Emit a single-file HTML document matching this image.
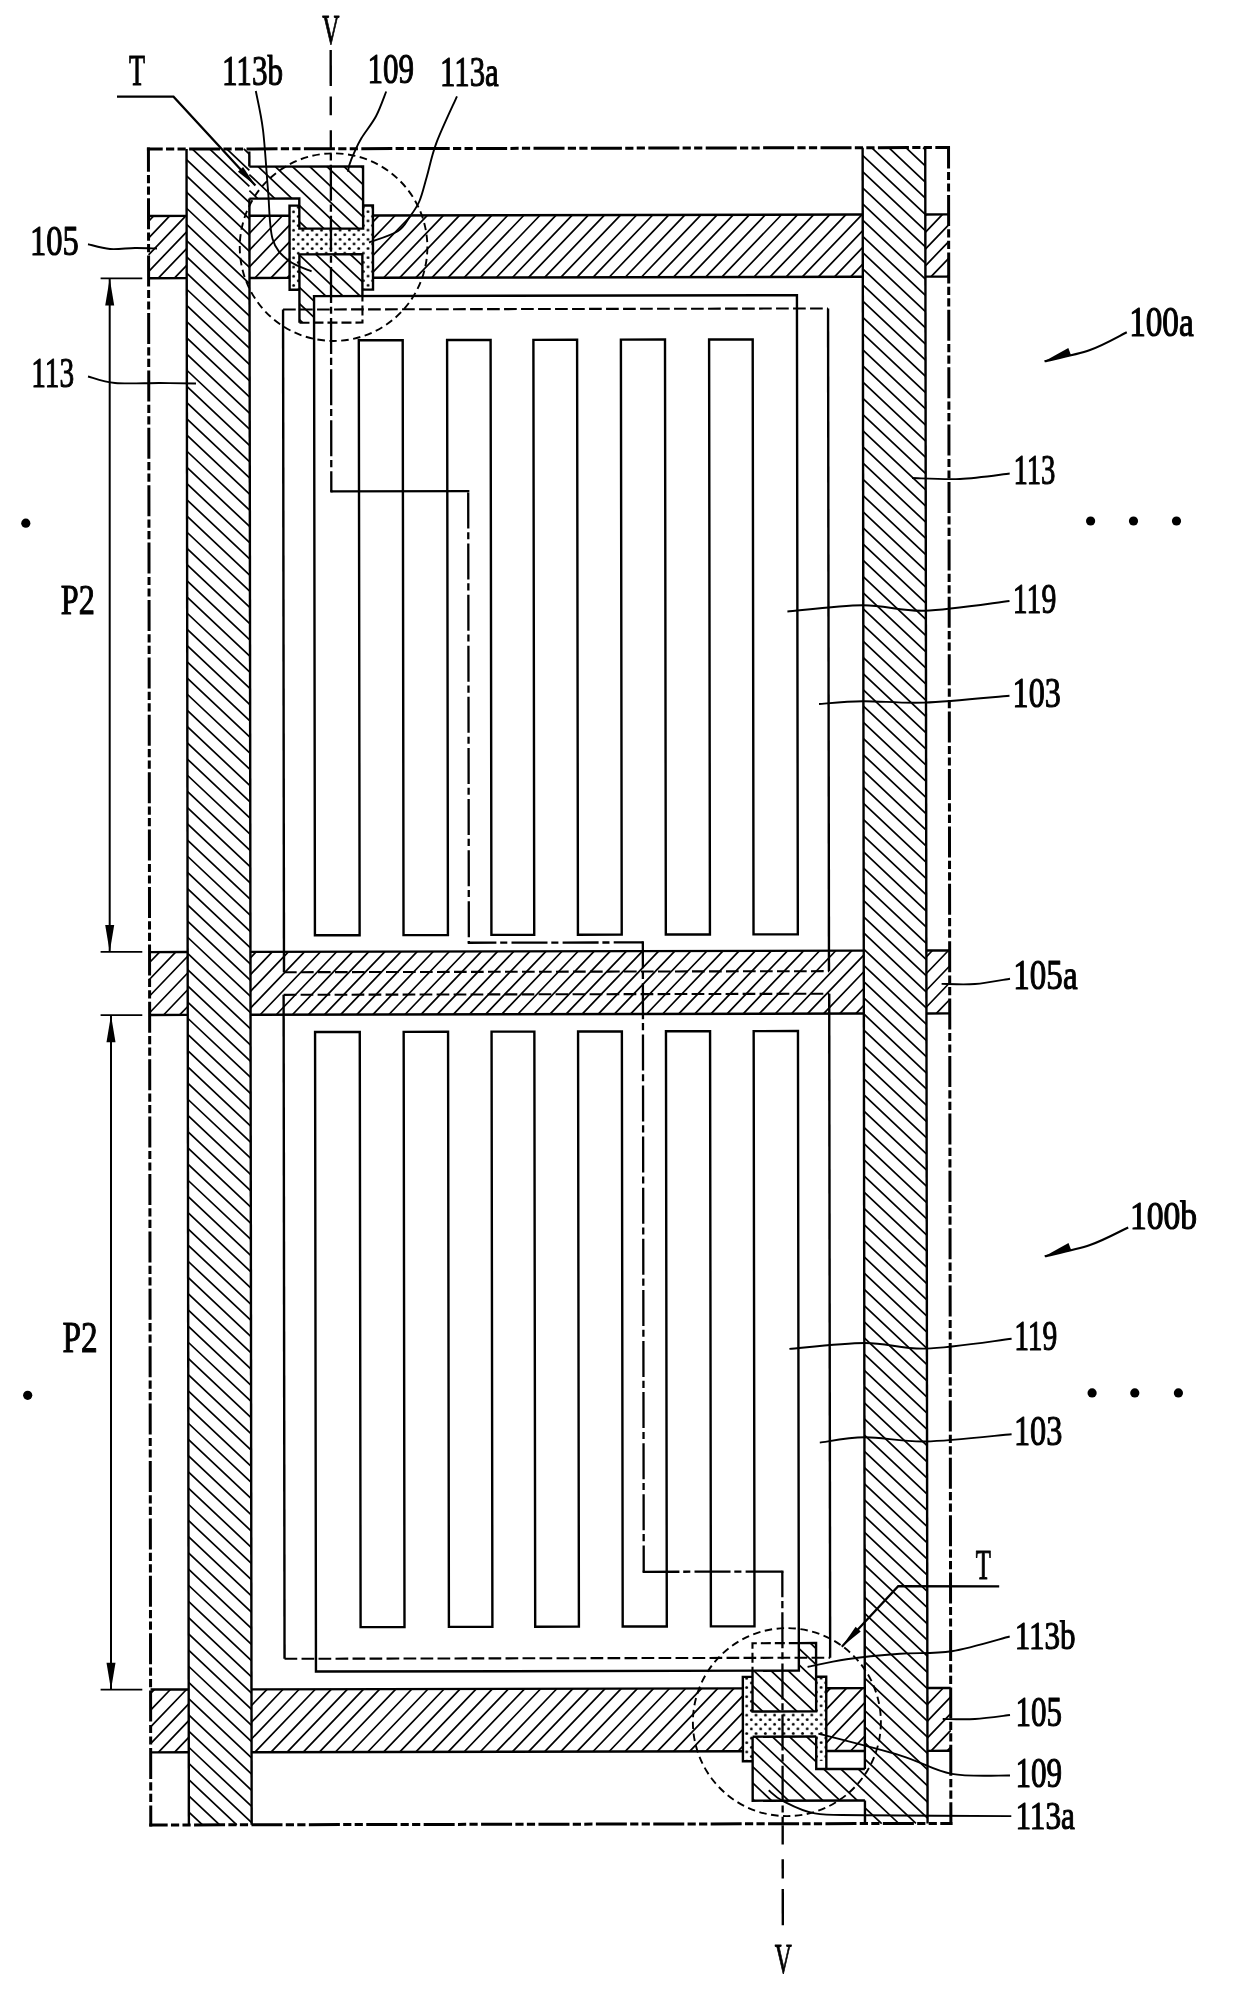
<!DOCTYPE html>
<html><head><meta charset="utf-8"><style>html,body{margin:0;padding:0;background:#fff;}svg{display:block;font-family:"Liberation Serif",serif;}</style></head><body><svg width="1240" height="1998" viewBox="0 0 1240 1998">
<defs><pattern id="dots" patternUnits="userSpaceOnUse" width="9.3" height="9.2" x="297" y="232"><circle cx="2.3" cy="2.3" r="1.45" fill="#000"/><circle cx="6.95" cy="6.9" r="1.45" fill="#000"/></pattern></defs>
<rect width="1240" height="1998" fill="#fff"/>
<g transform="matrix(1 -0.002 0.0014 1 -1.38 1.1)" stroke="#000" stroke-linecap="butt" stroke-linejoin="miter">
<path d="M154.7 215.2L149.6 220.5M170.8 215.2L149.6 237.25M186.9 215.2L149.6 253.99M187.7 231.11L149.6 270.74M187.7 247.86L159.29 277.4M187.7 264.6L175.39 277.4M251.3 215.2L250.5 216.03M267.4 215.2L250.5 232.78M283.5 215.2L250.5 249.52M290.6 224.56L250.5 266.26M290.6 241.3L255.89 277.4M290.6 258.05L271.99 277.4M290.6 274.79L288.09 277.4M380.1 215.2L374 221.54M396.2 215.2L374 238.29M412.3 215.2L374 255.03M428.4 215.2L374 271.78M444.5 215.2L384.69 277.4M460.6 215.2L400.79 277.4M476.7 215.2L416.89 277.4M492.8 215.2L432.99 277.4M508.9 215.2L449.09 277.4M525 215.2L465.19 277.4M541.1 215.2L481.29 277.4M557.2 215.2L497.39 277.4M573.3 215.2L513.49 277.4M589.4 215.2L529.59 277.4M605.5 215.2L545.69 277.4M621.6 215.2L561.79 277.4M637.7 215.2L577.89 277.4M653.8 215.2L593.99 277.4M669.9 215.2L610.09 277.4M686 215.2L626.19 277.4M702.1 215.2L642.29 277.4M718.2 215.2L658.39 277.4M734.3 215.2L674.49 277.4M750.4 215.2L690.59 277.4M766.5 215.2L706.69 277.4M782.6 215.2L722.79 277.4M798.7 215.2L738.89 277.4M814.8 215.2L754.99 277.4M830.9 215.2L771.09 277.4M847 215.2L787.19 277.4M863.1 215.2L803.29 277.4M863.8 231.22L819.39 277.4M863.8 247.96L835.49 277.4M863.8 264.7L851.59 277.4M927.5 215.2L926.4 216.34M943.6 215.2L926.4 233.09M949.7 225.6L926.4 249.83M949.7 242.34L926.4 266.58M949.7 259.09L932.09 277.4M949.7 275.83L948.19 277.4" stroke-width="1.7" fill="none"/>
<path d="M159.6 951.3L149.6 961.7M175.7 951.3L149.6 978.44M187.7 955.56L149.6 995.19M187.7 972.31L149.6 1011.93M187.7 989.05L163.52 1014.2M187.7 1005.8L179.62 1014.2M256.2 951.3L250.5 957.23M272.3 951.3L250.5 973.97M288.4 951.3L250.5 990.72M304.5 951.3L250.5 1007.46M320.6 951.3L260.12 1014.2M336.7 951.3L276.22 1014.2M352.8 951.3L292.32 1014.2M368.9 951.3L308.42 1014.2M385 951.3L324.52 1014.2M401.1 951.3L340.62 1014.2M417.2 951.3L356.72 1014.2M433.3 951.3L372.82 1014.2M449.4 951.3L388.92 1014.2M465.5 951.3L405.02 1014.2M481.6 951.3L421.12 1014.2M497.7 951.3L437.22 1014.2M513.8 951.3L453.32 1014.2M529.9 951.3L469.42 1014.2M546 951.3L485.52 1014.2M562.1 951.3L501.62 1014.2M578.2 951.3L517.72 1014.2M594.3 951.3L533.82 1014.2M610.4 951.3L549.92 1014.2M626.5 951.3L566.02 1014.2M642.6 951.3L582.12 1014.2M658.7 951.3L598.22 1014.2M674.8 951.3L614.32 1014.2M690.9 951.3L630.42 1014.2M707 951.3L646.52 1014.2M723.1 951.3L662.62 1014.2M739.2 951.3L678.72 1014.2M755.3 951.3L694.82 1014.2M771.4 951.3L710.92 1014.2M787.5 951.3L727.02 1014.2M803.6 951.3L743.12 1014.2M819.7 951.3L759.22 1014.2M835.8 951.3L775.32 1014.2M851.9 951.3L791.42 1014.2M863.8 955.67L807.52 1014.2M863.8 972.41L823.62 1014.2M863.8 989.16L839.72 1014.2M863.8 1005.9L855.82 1014.2M932.4 951.3L926.4 957.54M948.5 951.3L926.4 974.28M949.7 966.8L926.4 991.03M949.7 983.54L926.4 1007.77M949.7 1000.28L936.32 1014.2" stroke-width="1.7" fill="none"/>
<path d="M153.32 1688.75L149.6 1692.62M169.42 1688.75L149.6 1709.36M185.52 1688.75L149.6 1726.1M187.7 1703.22L149.6 1742.85M187.7 1719.97L157.28 1751.6M187.7 1736.71L173.38 1751.6M266.02 1688.75L250.5 1704.89M282.12 1688.75L250.5 1721.63M298.22 1688.75L250.5 1738.38M314.32 1688.75L253.88 1751.6M330.42 1688.75L269.98 1751.6M346.52 1688.75L286.08 1751.6M362.62 1688.75L302.18 1751.6M378.72 1688.75L318.28 1751.6M394.82 1688.75L334.38 1751.6M410.92 1688.75L350.48 1751.6M427.02 1688.75L366.58 1751.6M443.12 1688.75L382.68 1751.6M459.22 1688.75L398.78 1751.6M475.32 1688.75L414.88 1751.6M491.42 1688.75L430.98 1751.6M507.52 1688.75L447.08 1751.6M523.62 1688.75L463.18 1751.6M539.72 1688.75L479.28 1751.6M555.82 1688.75L495.38 1751.6M571.92 1688.75L511.48 1751.6M588.02 1688.75L527.58 1751.6M604.12 1688.75L543.68 1751.6M620.22 1688.75L559.78 1751.6M636.32 1688.75L575.88 1751.6M652.42 1688.75L591.98 1751.6M668.52 1688.75L608.08 1751.6M684.62 1688.75L624.18 1751.6M700.72 1688.75L640.28 1751.6M716.82 1688.75L656.38 1751.6M732.92 1688.75L672.48 1751.6M741.85 1696.2L688.58 1751.6M741.85 1712.95L704.68 1751.6M741.85 1729.69L720.78 1751.6M741.85 1746.44L736.88 1751.6M829.52 1688.75L825.25 1693.19M845.62 1688.75L825.25 1709.93M861.72 1688.75L825.25 1726.68M863.8 1703.33L825.25 1743.42M863.8 1720.07L833.48 1751.6M863.8 1736.82L849.58 1751.6M942.22 1688.75L926.4 1705.2M949.7 1697.71L926.4 1721.94M949.7 1714.46L926.4 1738.69M949.7 1731.2L930.08 1751.6M949.7 1747.94L946.18 1751.6" stroke-width="1.7" fill="none"/>
<path d="M245.04 148.3L250.5 153.46M227.89 148.3L250.5 169.66M210.75 148.3L250.5 185.86M193.61 148.3L250.5 202.06M187.7 158.92L250.5 218.26M187.7 175.12L250.5 234.46M187.7 191.32L250.5 250.66M187.7 207.52L250.5 266.86M187.7 223.72L250.5 283.06M187.7 239.92L250.5 299.26M187.7 256.12L250.5 315.46M187.7 272.32L250.5 331.66M187.7 288.52L250.5 347.86M187.7 304.72L250.5 364.06M187.7 320.92L250.5 380.26M187.7 337.12L250.5 396.46M187.7 353.32L250.5 412.66M187.7 369.52L250.5 428.86M187.7 385.72L250.5 445.06M187.7 401.92L250.5 461.26M187.7 418.12L250.5 477.46M187.7 434.32L250.5 493.66M187.7 450.52L250.5 509.86M187.7 466.72L250.5 526.06M187.7 482.92L250.5 542.26M187.7 499.12L250.5 558.46M187.7 515.32L250.5 574.66M187.7 531.52L250.5 590.86M187.7 547.72L250.5 607.06M187.7 563.92L250.5 623.26M187.7 580.12L250.5 639.46M187.7 596.32L250.5 655.66M187.7 612.52L250.5 671.86M187.7 628.72L250.5 688.06M187.7 644.92L250.5 704.26M187.7 661.12L250.5 720.46M187.7 677.32L250.5 736.66M187.7 693.52L250.5 752.86M187.7 709.72L250.5 769.06M187.7 725.92L250.5 785.26M187.7 742.12L250.5 801.46M187.7 758.32L250.5 817.66M187.7 774.52L250.5 833.86M187.7 790.72L250.5 850.06M187.7 806.92L250.5 866.26M187.7 823.12L250.5 882.46M187.7 839.32L250.5 898.66M187.7 855.52L250.5 914.86M187.7 871.72L250.5 931.06M187.7 887.92L250.5 947.26M187.7 904.12L250.5 963.46M187.7 920.32L250.5 979.66M187.7 936.52L250.5 995.86M187.7 952.72L250.5 1012.06M187.7 968.92L250.5 1028.26M187.7 985.12L250.5 1044.46M187.7 1001.32L250.5 1060.66M187.7 1017.52L250.5 1076.86M187.7 1033.72L250.5 1093.06M187.7 1049.92L250.5 1109.26M187.7 1066.12L250.5 1125.46M187.7 1082.32L250.5 1141.66M187.7 1098.52L250.5 1157.86M187.7 1114.72L250.5 1174.06M187.7 1130.92L250.5 1190.26M187.7 1147.12L250.5 1206.46M187.7 1163.32L250.5 1222.66M187.7 1179.52L250.5 1238.86M187.7 1195.72L250.5 1255.06M187.7 1211.92L250.5 1271.26M187.7 1228.12L250.5 1287.46M187.7 1244.32L250.5 1303.66M187.7 1260.52L250.5 1319.86M187.7 1276.72L250.5 1336.06M187.7 1292.92L250.5 1352.26M187.7 1309.12L250.5 1368.46M187.7 1325.32L250.5 1384.66M187.7 1341.52L250.5 1400.86M187.7 1357.72L250.5 1417.06M187.7 1373.92L250.5 1433.26M187.7 1390.12L250.5 1449.46M187.7 1406.32L250.5 1465.66M187.7 1422.52L250.5 1481.86M187.7 1438.72L250.5 1498.06M187.7 1454.92L250.5 1514.26M187.7 1471.12L250.5 1530.46M187.7 1487.32L250.5 1546.66M187.7 1503.52L250.5 1562.86M187.7 1519.72L250.5 1579.06M187.7 1535.92L250.5 1595.26M187.7 1552.12L250.5 1611.46M187.7 1568.32L250.5 1627.66M187.7 1584.52L250.5 1643.86M187.7 1600.72L250.5 1660.06M187.7 1616.92L250.5 1676.26M187.7 1633.12L250.5 1692.46M187.7 1649.32L250.5 1708.66M187.7 1665.52L250.5 1724.86M187.7 1681.72L250.5 1741.06M187.7 1697.92L250.5 1757.26M187.7 1714.12L250.5 1773.46M187.7 1730.32L250.5 1789.66M187.7 1746.52L250.5 1805.86M187.7 1762.72L250.5 1822.06M187.7 1778.92L235.62 1824.2M187.7 1795.12L218.48 1824.2M187.7 1811.32L201.33 1824.2" stroke-width="1.7" fill="none"/>
<path d="M293.56 166L300.4 172.47M276.41 166L300.4 188.67M259.27 166L293.13 198M250.5 173.91L275.99 198M250.5 190.11L258.85 198M362.13 166L364.2 167.96M344.98 166L364.2 184.16M327.84 166L364.2 200.36M310.7 166L364.2 216.56M300.4 172.47L359.27 228.1M300.4 188.67L342.13 228.1M300.4 204.87L324.98 228.1M300.4 221.07L307.84 228.1" stroke-width="1.7" fill="none"/>
<path d="M924.21 148.3L926.4 150.37M907.07 148.3L926.4 166.57M889.93 148.3L926.4 182.77M872.78 148.3L926.4 198.97M863.8 156.01L926.4 215.17M863.8 172.21L926.4 231.37M863.8 188.41L926.4 247.57M863.8 204.61L926.4 263.77M863.8 220.81L926.4 279.97M863.8 237.01L926.4 296.17M863.8 253.21L926.4 312.37M863.8 269.41L926.4 328.57M863.8 285.61L926.4 344.77M863.8 301.81L926.4 360.97M863.8 318.01L926.4 377.17M863.8 334.21L926.4 393.37M863.8 350.41L926.4 409.57M863.8 366.61L926.4 425.77M863.8 382.81L926.4 441.97M863.8 399.01L926.4 458.17M863.8 415.21L926.4 474.37M863.8 431.41L926.4 490.57M863.8 447.61L926.4 506.77M863.8 463.81L926.4 522.97M863.8 480.01L926.4 539.17M863.8 496.21L926.4 555.37M863.8 512.41L926.4 571.57M863.8 528.61L926.4 587.77M863.8 544.81L926.4 603.97M863.8 561.01L926.4 620.17M863.8 577.21L926.4 636.37M863.8 593.41L926.4 652.57M863.8 609.61L926.4 668.77M863.8 625.81L926.4 684.97M863.8 642.01L926.4 701.17M863.8 658.21L926.4 717.37M863.8 674.41L926.4 733.57M863.8 690.61L926.4 749.77M863.8 706.81L926.4 765.97M863.8 723.01L926.4 782.17M863.8 739.21L926.4 798.37M863.8 755.41L926.4 814.57M863.8 771.61L926.4 830.77M863.8 787.81L926.4 846.97M863.8 804.01L926.4 863.17M863.8 820.21L926.4 879.37M863.8 836.41L926.4 895.57M863.8 852.61L926.4 911.77M863.8 868.81L926.4 927.97M863.8 885.01L926.4 944.17M863.8 901.21L926.4 960.37M863.8 917.41L926.4 976.57M863.8 933.61L926.4 992.77M863.8 949.81L926.4 1008.97M863.8 966.01L926.4 1025.17M863.8 982.21L926.4 1041.37M863.8 998.41L926.4 1057.57M863.8 1014.61L926.4 1073.77M863.8 1030.81L926.4 1089.97M863.8 1047.01L926.4 1106.17M863.8 1063.21L926.4 1122.37M863.8 1079.41L926.4 1138.57M863.8 1095.61L926.4 1154.77M863.8 1111.81L926.4 1170.97M863.8 1128.01L926.4 1187.17M863.8 1144.21L926.4 1203.37M863.8 1160.41L926.4 1219.57M863.8 1176.61L926.4 1235.77M863.8 1192.81L926.4 1251.97M863.8 1209.01L926.4 1268.17M863.8 1225.21L926.4 1284.37M863.8 1241.41L926.4 1300.57M863.8 1257.61L926.4 1316.77M863.8 1273.81L926.4 1332.97M863.8 1290.01L926.4 1349.17M863.8 1306.21L926.4 1365.37M863.8 1322.41L926.4 1381.57M863.8 1338.61L926.4 1397.77M863.8 1354.81L926.4 1413.97M863.8 1371.01L926.4 1430.17M863.8 1387.21L926.4 1446.37M863.8 1403.41L926.4 1462.57M863.8 1419.61L926.4 1478.77M863.8 1435.81L926.4 1494.97M863.8 1452.01L926.4 1511.17M863.8 1468.21L926.4 1527.37M863.8 1484.41L926.4 1543.57M863.8 1500.61L926.4 1559.77M863.8 1516.81L926.4 1575.97M863.8 1533.01L926.4 1592.17M863.8 1549.21L926.4 1608.37M863.8 1565.41L926.4 1624.57M863.8 1581.61L926.4 1640.77M863.8 1597.81L926.4 1656.97M863.8 1614.01L926.4 1673.17M863.8 1630.21L926.4 1689.37M863.8 1646.41L926.4 1705.57M863.8 1662.61L926.4 1721.77M863.8 1678.81L926.4 1737.97M863.8 1695.01L926.4 1754.17M863.8 1711.21L926.4 1770.37M863.8 1727.41L926.4 1786.57M863.8 1743.61L926.4 1802.77M863.8 1759.81L926.4 1818.97M863.8 1776.01L914.79 1824.2M863.8 1792.21L897.65 1824.2M863.8 1808.41L880.51 1824.2M805.48 1737.1L815.15 1746.24M788.34 1737.1L815.15 1762.44M771.2 1737.1L815.15 1778.64M754.05 1737.1L815.15 1794.84M751.55 1750.93L804.63 1801.1M751.55 1767.13L787.49 1801.1M751.55 1783.33L770.35 1801.1M751.55 1799.53L753.21 1801.1M857.02 1769.6L863.8 1776.01M839.87 1769.6L863.8 1792.21M822.73 1769.6L856.06 1801.1M815.15 1778.64L838.92 1801.1M815.15 1794.84L821.78 1801.1" stroke-width="1.7" fill="none"/>
<path d="M351.29 253.9L363.4 265.35M334.14 253.9L363.4 281.55M317 253.9L361.18 295.65M300.4 254.41L344.04 295.65M300.4 270.61L326.89 295.65M300.4 286.81L309.75 295.65M309.75 295.65L315 300.61M300.4 303.01L315 316.81M300.4 319.21L303.56 322.2" stroke-width="1.7" fill="none"/>
<path d="M804.21 1671.1L815.15 1681.44M787.07 1671.1L815.15 1697.64M769.93 1671.1L813.1 1711.9M752.78 1671.1L795.96 1711.9M751.55 1686.13L778.81 1711.9M751.55 1702.33L761.67 1711.9M809.4 1643.6L815.15 1649.04M797.9 1648.94L815.15 1665.24M797.9 1665.14L804.21 1671.1" stroke-width="1.7" fill="none"/>
<rect x="290.6" y="205.1" width="9.8" height="84.2" fill="url(#dots)" stroke="none"/>
<rect x="364.2" y="205.1" width="9.8" height="84.2" fill="url(#dots)" stroke="none"/>
<rect x="300.4" y="228.1" width="63.8" height="25.8" fill="url(#dots)" stroke="none"/>
<rect x="741.85" y="1677.3" width="9.7" height="84.3" fill="url(#dots)" stroke="none"/>
<rect x="815.15" y="1677.3" width="10.1" height="84.3" fill="url(#dots)" stroke="none"/>
<rect x="751.55" y="1711.9" width="63.6" height="25.2" fill="url(#dots)" stroke="none"/>
<line x1="148.1" y1="148.3" x2="951.2" y2="148.3" stroke-width="3" stroke-dasharray="31 3.3 8.2 3.3 8.2 3.4" stroke-dashoffset="15.2"/>
<line x1="149.6" y1="146.8" x2="149.6" y2="1825.7" stroke-width="3" stroke-dasharray="31 3.3 8.2 3.3 8.2 3.4" stroke-dashoffset="6.8"/>
<line x1="949.7" y1="146.8" x2="949.7" y2="1825.7" stroke-width="3" stroke-dasharray="31 3.3 8.2 3.3 8.2 3.4" stroke-dashoffset="8.4"/>
<line x1="148.1" y1="1824.2" x2="951.2" y2="1824.2" stroke-width="3" stroke-dasharray="31 3.3 8.2 3.3 8.2 3.4" stroke-dashoffset="12.6"/>
<line x1="187.7" y1="148.3" x2="187.7" y2="1824.2" stroke-width="2.4" />
<line x1="250.5" y1="198" x2="250.5" y2="1824.2" stroke-width="2.4" />
<line x1="250.5" y1="150.8" x2="250.5" y2="166" stroke-width="2.4" />
<line x1="863.8" y1="148.3" x2="863.8" y2="1769.6" stroke-width="2.4" />
<line x1="863.8" y1="1801.1" x2="863.8" y2="1824.2" stroke-width="2.4" />
<line x1="926.4" y1="148.3" x2="926.4" y2="1824.2" stroke-width="2.4" />
<line x1="149.6" y1="215.2" x2="187.7" y2="215.2" stroke-width="2.4" />
<line x1="149.6" y1="277.4" x2="187.7" y2="277.4" stroke-width="2.4" />
<line x1="250.5" y1="215.2" x2="290.6" y2="215.2" stroke-width="2.4" />
<line x1="250.5" y1="277.4" x2="290.6" y2="277.4" stroke-width="2.4" />
<line x1="374" y1="215.2" x2="863.8" y2="215.2" stroke-width="2.4" />
<line x1="374" y1="277.4" x2="863.8" y2="277.4" stroke-width="2.4" />
<line x1="926.4" y1="215.2" x2="949.7" y2="215.2" stroke-width="2.4" />
<line x1="926.4" y1="277.4" x2="949.7" y2="277.4" stroke-width="2.4" />
<line x1="149.6" y1="951.3" x2="187.7" y2="951.3" stroke-width="2.4" />
<line x1="149.6" y1="1014.2" x2="187.7" y2="1014.2" stroke-width="2.4" />
<line x1="250.5" y1="951.3" x2="863.8" y2="951.3" stroke-width="2.4" />
<line x1="250.5" y1="1014.2" x2="863.8" y2="1014.2" stroke-width="2.4" />
<line x1="926.4" y1="951.3" x2="949.7" y2="951.3" stroke-width="2.4" />
<line x1="926.4" y1="1014.2" x2="949.7" y2="1014.2" stroke-width="2.4" />
<line x1="149.6" y1="1688.75" x2="187.7" y2="1688.75" stroke-width="2.4" />
<line x1="149.6" y1="1751.6" x2="187.7" y2="1751.6" stroke-width="2.4" />
<line x1="250.5" y1="1688.75" x2="741.85" y2="1688.75" stroke-width="2.4" />
<line x1="250.5" y1="1751.6" x2="741.85" y2="1751.6" stroke-width="2.4" />
<line x1="825.25" y1="1688.75" x2="863.8" y2="1688.75" stroke-width="2.4" />
<line x1="825.25" y1="1751.6" x2="863.8" y2="1751.6" stroke-width="2.4" />
<line x1="926.4" y1="1688.75" x2="949.7" y2="1688.75" stroke-width="2.4" />
<line x1="926.4" y1="1751.6" x2="949.7" y2="1751.6" stroke-width="2.4" />
<polygon points="315,295.65 797.9,295.65 797.9,934.8 753.6,934.8 753.6,339.8 710,339.8 710,934.8 665.9,934.8 665.9,339.8 621.8,339.8 621.8,934.8 578,934.8 578,339.8 534.3,339.8 534.3,934.8 491.5,934.8 491.5,339.8 448,339.8 448,934.8 403.6,934.8 403.6,339.8 359.7,339.8 359.7,934.8 315,934.8" stroke-width="2.4" fill="#fff" />
<polygon points="315,1671.1 315,1031.55 359.7,1031.55 359.7,1626.7 403.6,1626.7 403.6,1031.55 448,1031.55 448,1626.7 491.5,1626.7 491.5,1031.55 534.3,1031.55 534.3,1626.7 578,1626.7 578,1031.55 621.8,1031.55 621.8,1626.7 665.9,1626.7 665.9,1031.55 710,1031.55 710,1626.7 753.6,1626.7 753.6,1031.55 797.9,1031.55 797.9,1671.1" stroke-width="2.4" fill="#fff" />
<line x1="284" y1="309" x2="284" y2="971.7" stroke-width="2.4" />
<line x1="829" y1="309" x2="829" y2="971.7" stroke-width="2.4" />
<line x1="284" y1="309" x2="829" y2="309" stroke-width="2.1" stroke-dasharray="12.7 4.3"/>
<line x1="284" y1="971.7" x2="829" y2="971.7" stroke-width="2.1" stroke-dasharray="12.7 4.3"/>
<line x1="283.6" y1="994.3" x2="283.6" y2="1658.25" stroke-width="2.4" />
<line x1="829.2" y1="994.3" x2="829.2" y2="1658.25" stroke-width="2.4" />
<line x1="283.6" y1="994.3" x2="829.2" y2="994.3" stroke-width="2.1" stroke-dasharray="12.7 4.3"/>
<line x1="283.6" y1="1658.25" x2="829.2" y2="1658.25" stroke-width="2.1" stroke-dasharray="12.7 4.3"/>
<polyline points="250.5,166 364.2,166 364.2,228.1 300.4,228.1 300.4,198 250.5,198" stroke-width="2.4" fill="none" />
<polyline points="300.4,205.1 290.6,205.1 290.6,289.3 300.4,289.3" stroke-width="2.4" fill="none" />
<polyline points="364.2,205.1 374,205.1 374,289.3 363.4,289.3" stroke-width="2.4" fill="none" />
<polyline points="363.4,295.65 363.4,253.9 300.4,253.9 300.4,322.2" stroke-width="2.4" fill="none" />
<polyline points="300.4,322.2 363.4,322.2 363.4,295.65" stroke-width="2.1" fill="none" stroke-dasharray="10 4"/>
<polyline points="751.55,1671.1 751.55,1711.9 815.15,1711.9 815.15,1643.6 797.9,1643.6" stroke-width="2.4" fill="none" />
<polyline points="797.9,1643.6 751.55,1643.6 751.55,1671.1" stroke-width="2.1" fill="none" stroke-dasharray="10 4"/>
<polyline points="751.55,1677.3 741.85,1677.3 741.85,1761.6 751.55,1761.6" stroke-width="2.4" fill="none" />
<polyline points="815.15,1677.3 825.25,1677.3 825.25,1769.6" stroke-width="2.4" fill="none" />
<polyline points="751.55,1737.1 815.15,1737.1" stroke-width="2.4" fill="none" />
<polyline points="815.15,1737.1 815.15,1769.6 863.8,1769.6" stroke-width="2.4" fill="none" />
<polyline points="863.8,1801.1 751.55,1801.1 751.55,1737.1" stroke-width="2.4" fill="none" />
<circle cx="334.6" cy="246.7" r="93.8" fill="none" stroke-width="1.9" stroke-dasharray="7.5 4.5"/>
<circle cx="785.85" cy="1722.6" r="94.0" fill="none" stroke-width="1.9" stroke-dasharray="7.5 4.5"/>
<line x1="332" y1="129.8" x2="332" y2="491" stroke-width="2.3" stroke-dasharray="36 3.8 7.1 4.2" stroke-dashoffset="16.6"/>
<line x1="468.9" y1="491" x2="468.9" y2="942.6" stroke-width="2.3" stroke-dasharray="36 3.8 7.1 4.2" stroke-dashoffset="49.8"/>
<line x1="468.9" y1="942.6" x2="642.9" y2="942.6" stroke-width="2.3" stroke-dasharray="36 3.8 7.1 4.2" stroke-dashoffset="8.44"/>
<line x1="642.9" y1="942.6" x2="642.9" y2="1572" stroke-width="2.3" stroke-dasharray="36 3.8 7.1 4.2" stroke-dashoffset="10.2"/>
<line x1="642.9" y1="1572" x2="781.5" y2="1572" stroke-width="2.3" stroke-dasharray="36 3.8 7.1 4.2" stroke-dashoffset="0.3"/>
<line x1="781.5" y1="1572" x2="781.5" y2="1826" stroke-width="2.3" stroke-dasharray="36 3.8 7.1 4.2" stroke-dashoffset="10.3"/>
<polyline points="332,491 468.9,491" stroke-width="2.3" fill="none" />
<rect x="330.85" y="489.85" width="2.3" height="2.3" fill="#000" stroke="none"/>
<rect x="467.75" y="489.85" width="2.3" height="2.3" fill="#000" stroke="none"/>
<rect x="467.75" y="941.45" width="2.3" height="2.3" fill="#000" stroke="none"/>
<rect x="641.75" y="941.45" width="2.3" height="2.3" fill="#000" stroke="none"/>
<rect x="641.75" y="1570.85" width="2.3" height="2.3" fill="#000" stroke="none"/>
<rect x="780.35" y="1570.85" width="2.3" height="2.3" fill="#000" stroke="none"/>
<line x1="332" y1="49.5" x2="332" y2="85.5" stroke-width="2.4" />
<line x1="332" y1="96" x2="332" y2="114.8" stroke-width="2.4" />
<line x1="781.5" y1="1826" x2="781.5" y2="1845" stroke-width="2.4" />
<line x1="781.5" y1="1859.7" x2="781.5" y2="1879" stroke-width="2.4" />
<line x1="781.5" y1="1889.5" x2="781.5" y2="1925.8" stroke-width="2.4" />
</g>
<g stroke="#000" fill="none">
<line x1="100.6" y1="278.4" x2="142.3" y2="278.4" stroke-width="1.8" />
<line x1="100.6" y1="951.9" x2="142.3" y2="951.9" stroke-width="1.8" />
<line x1="109.7" y1="278.4" x2="109.7" y2="951.9" stroke-width="2.0" />
<polygon points="109.7,278.4 114.2,305.4 105.2,305.4" fill="#000" stroke="none"/>
<polygon points="109.7,951.9 105.2,924.9 114.2,924.9" fill="#000" stroke="none"/>
<line x1="100.6" y1="1015.2" x2="142.3" y2="1015.2" stroke-width="1.8" />
<line x1="100.6" y1="1689.7" x2="142.3" y2="1689.7" stroke-width="1.8" />
<line x1="111" y1="1015.2" x2="111" y2="1689.7" stroke-width="2.0" />
<polygon points="111,1015.2 115.5,1042.2 106.5,1042.2" fill="#000" stroke="none"/>
<polygon points="111,1689.7 106.5,1662.7 115.5,1662.7" fill="#000" stroke="none"/>
<polyline points="117,96.65 173.5,96.65 255.4,185.5" stroke-width="2.2" fill="none" />
<polygon points="255.4,185.5 237.92,171.7 243.06,166.95" fill="#000" stroke="none"/>
<path d="M255.8 91C257 97.5 260.97 113.5 263 130C265.03 146.5 266.4 171.83 268 190C269.6 208.17 269.18 227.23 272.6 239C276.02 250.77 282 255.22 288.5 260.6C295 265.98 307.75 269.52 311.6 271.3" stroke-width="1.9" fill="none" />
<path d="M386.2 91.5C384.5 95.63 380.12 108.53 376 116.3C371.88 124.07 365.13 132.05 361.5 138.1C357.87 144.15 356.22 148.17 354.2 152.6C352.18 157.03 350.42 161.48 349.4 164.7C348.38 167.92 348.32 170.7 348.1 171.9" stroke-width="1.9" fill="none" />
<path d="M457 96.3C453.57 104.07 441.43 129.48 436.4 142.9C431.37 156.32 429.62 167.12 426.8 176.8C423.98 186.48 422.33 194.35 419.5 201C416.67 207.65 413.43 211.67 409.8 216.7C406.17 221.73 404.5 226.9 397.7 231.2C390.9 235.5 373.78 240.62 369 242.5" stroke-width="1.9" fill="none" />
<path d="M88 244.2C91.67 245 102.17 248.37 110 249C117.83 249.63 127.17 248.08 135 248C142.83 247.92 153.33 248.42 157 248.5" stroke-width="1.9" fill="none" />
<path d="M88 376.5C92.5 377.58 103 381.92 115 383C127 384.08 146.5 382.92 160 383C173.5 383.08 190 383.42 196 383.5" stroke-width="1.9" fill="none" />
<path d="M1126.8 332.3C1120.67 335.25 1103.72 345.17 1090 350C1076.28 354.83 1052.08 359.42 1044.5 361.3" stroke-width="2.2" fill="none" />
<polygon points="1044.5,361.3 1068.32,347.97 1071.16,355.45" fill="#000" stroke="none"/>
<path d="M912 478C920 478.17 943.72 479.75 960 479C976.28 478.25 1001.42 474.42 1009.7 473.5" stroke-width="1.9" fill="none" />
<path d="M787.4 611.5C799.97 610.45 839.95 605.33 862.8 605.2C885.65 605.07 900.05 611.4 924.5 610.7C948.95 610 995.33 602.62 1009.5 601" stroke-width="1.9" fill="none" />
<path d="M819 704C826.3 703.53 845.22 701.43 862.8 701.2C880.38 700.97 900.05 703.52 924.5 702.6C948.95 701.68 995.33 696.85 1009.5 695.7" stroke-width="1.9" fill="none" />
<path d="M941.6 983.9C947.17 983.92 963.6 984.87 975 984C986.4 983.13 1004.17 979.58 1010 978.7" stroke-width="1.9" fill="none" />
<path d="M1128.2 1227.4C1121.83 1230.33 1103.92 1240.18 1090 1245C1076.08 1249.82 1052.25 1254.42 1044.7 1256.3" stroke-width="2.2" fill="none" />
<polygon points="1044.7,1256.3 1068.52,1242.97 1071.36,1250.45" fill="#000" stroke="none"/>
<path d="M789.4 1348.9C801.97 1347.92 842.08 1343.05 864.8 1343C887.52 1342.95 901.23 1349.3 925.7 1348.6C950.17 1347.9 997.28 1340.43 1011.6 1338.8" stroke-width="1.9" fill="none" />
<path d="M819.8 1442.6C827.3 1441.72 847.15 1437.48 864.8 1437.3C882.45 1437.12 901.23 1442.02 925.7 1441.5C950.17 1440.98 997.28 1435.42 1011.6 1434.2" stroke-width="1.9" fill="none" />
<polyline points="999.2,1586.4 898.2,1586.2 841.8,1646.7" stroke-width="2.2" fill="none" />
<polygon points="841.8,1646.7 855.61,1626.76 860.73,1631.53" fill="#000" stroke="none"/>
<path d="M1009.7 1636.5C1000.02 1638.97 969.88 1648.43 951.6 1651.3C933.32 1654.17 917.5 1652.38 900 1653.7C882.5 1655.02 862 1656.98 846.6 1659.2C831.2 1661.42 814.1 1665.7 807.6 1667" stroke-width="1.9" fill="none" />
<path d="M1010 1715C1004.17 1715.67 986.22 1718.33 975 1719C963.78 1719.67 948.08 1719 942.7 1719" stroke-width="1.9" fill="none" />
<path d="M1010 1775.5C1000.27 1775.23 969.93 1777.27 951.6 1773.9C933.27 1770.53 922.2 1762.02 900 1755.3C877.8 1748.58 832 1737.22 818.4 1733.6" stroke-width="1.9" fill="none" />
<path d="M1011.3 1816.1C986.83 1815.95 897.25 1815.65 864.5 1815.2C831.75 1814.75 828.4 1815.77 814.8 1813.4C801.2 1811.03 790.58 1804.85 782.9 1801C775.22 1797.15 771.07 1792.08 768.7 1790.3" stroke-width="1.9" fill="none" />
</g>
<circle cx="25.8" cy="523.2" r="4.6" fill="#000"/>
<circle cx="1090.6" cy="521" r="4.6" fill="#000"/>
<circle cx="1133.5" cy="521" r="4.6" fill="#000"/>
<circle cx="1176.5" cy="521" r="4.6" fill="#000"/>
<circle cx="27.7" cy="1395.3" r="4.6" fill="#000"/>
<circle cx="1092.1" cy="1392.9" r="4.6" fill="#000"/>
<circle cx="1134.8" cy="1392.9" r="4.6" fill="#000"/>
<circle cx="1178.4" cy="1392.9" r="4.6" fill="#000"/>
<g style="will-change:transform" opacity="0.999">
<text transform="translate(322.36 43.52) scale(0.57 1)" font-size="41.79" font-family="Liberation Serif" fill="#000" stroke="#000" stroke-width="1.1" stroke-linejoin="round">V</text>
<text transform="translate(128.98 84.95) scale(0.6 1)" font-size="43.82" font-family="Liberation Serif" fill="#000" stroke="#000" stroke-width="1.1" stroke-linejoin="round">T</text>
<text transform="translate(221.88 84.52) scale(0.73 1)" font-size="42.7" font-family="Liberation Serif" fill="#000" stroke="#000" stroke-width="1.1" stroke-linejoin="round">113b</text>
<text transform="translate(367.41 83.22) scale(0.73 1)" font-size="42.52" font-family="Liberation Serif" fill="#000" stroke="#000" stroke-width="1.1" stroke-linejoin="round">109</text>
<text transform="translate(440.04 85.63) scale(0.74 1)" font-size="41.64" font-family="Liberation Serif" fill="#000" stroke="#000" stroke-width="1.1" stroke-linejoin="round">113a</text>
<text transform="translate(30.06 254.73) scale(0.77 1)" font-size="42.22" font-family="Liberation Serif" fill="#000" stroke="#000" stroke-width="1.1" stroke-linejoin="round">105</text>
<text transform="translate(31.25 387.12) scale(0.68 1)" font-size="43.13" font-family="Liberation Serif" fill="#000" stroke="#000" stroke-width="1.1" stroke-linejoin="round">113</text>
<text transform="translate(60.84 614.15) scale(0.76 1)" font-size="42.42" font-family="Liberation Serif" fill="#000" stroke="#000" stroke-width="1.1" stroke-linejoin="round">P2</text>
<text transform="translate(1129.13 335.63) scale(0.79 1)" font-size="42.07" font-family="Liberation Serif" fill="#000" stroke="#000" stroke-width="1.1" stroke-linejoin="round">100a</text>
<text transform="translate(1013.4 483.53) scale(0.69 1)" font-size="41.64" font-family="Liberation Serif" fill="#000" stroke="#000" stroke-width="1.1" stroke-linejoin="round">113</text>
<text transform="translate(1012.83 612.92) scale(0.69 1)" font-size="43.13" font-family="Liberation Serif" fill="#000" stroke="#000" stroke-width="1.1" stroke-linejoin="round">119</text>
<text transform="translate(1012.61 707.14) scale(0.78 1)" font-size="41.19" font-family="Liberation Serif" fill="#000" stroke="#000" stroke-width="1.1" stroke-linejoin="round">103</text>
<text transform="translate(1013.32 989.33) scale(0.78 1)" font-size="42.37" font-family="Liberation Serif" fill="#000" stroke="#000" stroke-width="1.1" stroke-linejoin="round">105a</text>
<text transform="translate(1129.88 1229.35) scale(0.85 1)" font-size="39.57" font-family="Liberation Serif" fill="#000" stroke="#000" stroke-width="1.1" stroke-linejoin="round">100b</text>
<text transform="translate(62.41 1351.75) scale(0.76 1)" font-size="43.79" font-family="Liberation Serif" fill="#000" stroke="#000" stroke-width="1.1" stroke-linejoin="round">P2</text>
<text transform="translate(1014.13 1349.53) scale(0.71 1)" font-size="41.64" font-family="Liberation Serif" fill="#000" stroke="#000" stroke-width="1.1" stroke-linejoin="round">119</text>
<text transform="translate(1013.9 1444.62) scale(0.76 1)" font-size="42.52" font-family="Liberation Serif" fill="#000" stroke="#000" stroke-width="1.1" stroke-linejoin="round">103</text>
<text transform="translate(975.8 1578.95) scale(0.58 1)" font-size="42.6" font-family="Liberation Serif" fill="#000" stroke="#000" stroke-width="1.1" stroke-linejoin="round">T</text>
<text transform="translate(1014.7 1648.74) scale(0.76 1)" font-size="40.85" font-family="Liberation Serif" fill="#000" stroke="#000" stroke-width="1.1" stroke-linejoin="round">113b</text>
<text transform="translate(1015.4 1726.04) scale(0.75 1)" font-size="41.33" font-family="Liberation Serif" fill="#000" stroke="#000" stroke-width="1.1" stroke-linejoin="round">105</text>
<text transform="translate(1015.4 1786.64) scale(0.75 1)" font-size="41.48" font-family="Liberation Serif" fill="#000" stroke="#000" stroke-width="1.1" stroke-linejoin="round">109</text>
<text transform="translate(1015.39 1829.34) scale(0.77 1)" font-size="40.6" font-family="Liberation Serif" fill="#000" stroke="#000" stroke-width="1.1" stroke-linejoin="round">113a</text>
<text transform="translate(774.66 1973.01) scale(0.55 1)" font-size="42.84" font-family="Liberation Serif" fill="#000" stroke="#000" stroke-width="1.1" stroke-linejoin="round">V</text>
</g></svg></body></html>
